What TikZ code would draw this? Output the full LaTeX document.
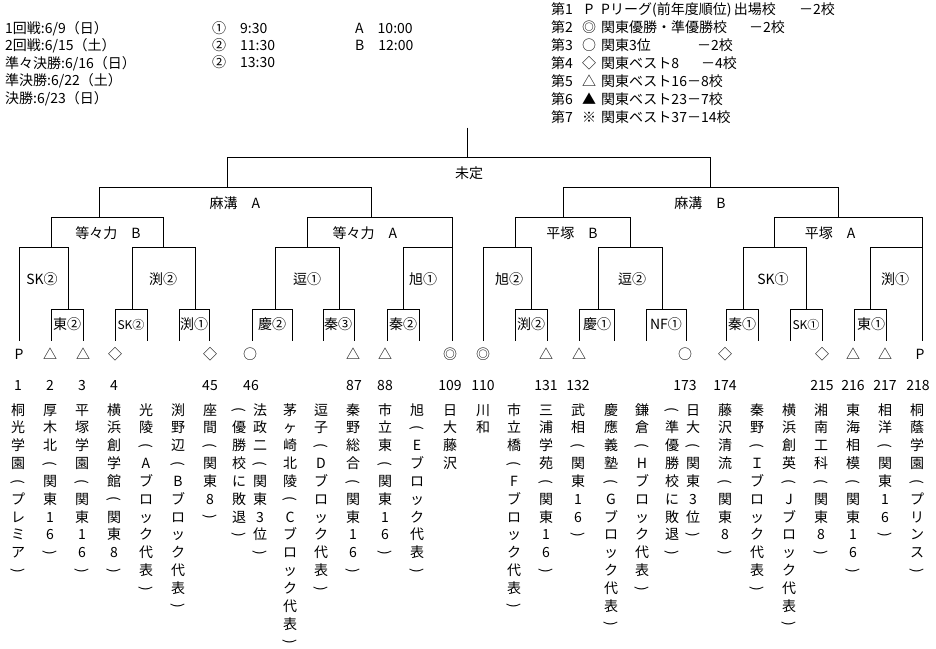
\documentclass[tikz,border=0pt]{standalone}
\usepackage{fontspec}
\setmainfont{Noto Sans CJK JP}
\def\tateOP{︵}
\def\tateCP{︶}
\newcommand\tatecol[3]{%
  \foreach \ch [count=\k from 0] in {#3} {%
    \ifx\ch\tateOP
      \node[t,rotate=-90] (#1-\k) at (#2,{410+17.85*\k}) {(};%
    \else\ifx\ch\tateCP
      \node[t,rotate=-90] (#1-\k) at (#2,{410+17.85*\k}) {)};%
    \else
      \node[t] (#1-\k) at (#2,{410+17.85*\k}) {\ch};%
    \fi\fi}}
\begin{document}
\begin{tikzpicture}[x=1pt,y=-1pt,
  t/.style={inner sep=0pt, text height=12pt, text depth=2pt, font=\fontsize{14}{18}\selectfont},
  ts/.style={t, font=\fontsize{12}{16}\selectfont},
  br/.style={draw=black, line width=1pt}]
\fill[white] (0,0) rectangle (936,648);
\path[use as bounding box] (0,0) rectangle (936,648);

% ---------- header (left) ----------
\node[t,anchor=west] (h1) at (5,28) {1回戦:6/9（日）};
\node[t,anchor=west] (h2) at (5,45) {2回戦:6/15（土）};
\node[t,anchor=west] (h3) at (5,63) {準々決勝:6/16（日）};
\node[t,anchor=west] (h4) at (5,80) {準決勝:6/22（土）};
\node[t,anchor=west] (h5) at (5,98) {決勝:6/23（日）};
\node[t,anchor=west] (m1) at (212,28) {①\quad 9:30};
\node[t,anchor=west] (m2) at (212,45) {②\quad 11:30};
\node[t,anchor=west] (m3) at (212,62) {②\quad 13:30};
\node[t,anchor=west] (a1) at (355,28) {A\quad 10:00};
\node[t,anchor=west] (a2) at (355,45) {B\quad 12:00};

% ---------- legend ----------
\foreach \n/\y/\mk in {1/9/P,2/27/◎,3/45/○,4/63/◇,5/81/△,6/99/▲,7/117/※}{
  \node[t,anchor=west] (lg\n) at (551,\y) {第\n};
  \node[t] (lm\n) at (589,\y) {\mk};}
\node[t,anchor=west] (ld1) at (601,9) {Pリーグ(前年度順位)\,出場校};
\node[t,anchor=east] (le1) at (835,9) {－2校};
\node[t,anchor=west] (ld2) at (601,27) {関東優勝・準優勝校};
\node[t,anchor=east] (le2) at (785,27) {－2校};
\node[t,anchor=west] (ld3) at (601,45) {関東3位};
\node[t,anchor=east] (le3) at (733,45) {－2校};
\node[t,anchor=west] (ld4) at (601,63) {関東ベスト8};
\node[t,anchor=east] (le4) at (737,63) {－4校};
\node[t,anchor=west] (ld5) at (601,81) {関東ベスト16－8校};
\node[t,anchor=west] (ld6) at (601,99) {関東ベスト23－7校};
\node[t,anchor=west] (ld7) at (601,117) {関東ベスト37－14校};

% ---------- bracket lines ----------
\begin{scope}[shift={(0.5,0.5)}]
\draw[br] (467,127)--(467,157);
\draw[br] (227,187)--(227,157)--(710,157)--(710,187);
\draw[br] (99,217)--(99,187)--(371,187)--(371,217);
\draw[br] (563,217)--(563,187)--(838,187)--(838,217);
\draw[br] (51,247)--(51,217)--(163,217)--(163,247);
\draw[br] (307,247)--(307,217)--(452,217)--(452,340);
\draw[br] (515,247)--(515,217)--(630,217)--(630,247);
\draw[br] (774,247)--(774,217)--(922,217)--(922,340);
\draw[br] (19,340)--(19,247)--(68,247)--(68,309);
\draw[br] (132,309)--(132,247)--(195,247)--(195,309);
\draw[br] (275,309)--(275,247)--(339,247)--(339,309);
\draw[br] (403,309)--(403,247)--(452,247);
\draw[br] (483,340)--(483,247)--(531,247)--(531,309);
\draw[br] (598,309)--(598,247)--(662,247)--(662,309);
\draw[br] (743,309)--(743,247)--(806,247)--(806,309);
\draw[br] (870,309)--(870,247)--(922,247);
\foreach \a/\b in {51/83,115/147,179/209,252/292,323/354,387/419,515/547,579/614,646/686,726/758,790/822,854/886}
  \draw[br] (\a,340)--(\a,309)--(\b,309)--(\b,340);
\end{scope}

% ---------- bracket labels ----------
\node[t] (final) at (469,173) {未定};
\node[t] (sfA) at (235,203) {麻溝　A};
\node[t] (sfB) at (700,203) {麻溝　B};
\node[t] (qf1) at (108,233) {等々力　B};
\node[t] (qf2) at (365,233) {等々力　A};
\node[t] (qf3) at (572,233) {平塚　B};
\node[t] (qf4) at (830,233) {平塚　A};
\node[t] (r1) at (42,279) {SK②};
\node[t] (r2) at (163,279) {渕②};
\node[t] (r3) at (307,279) {逗①};
\node[t] (r4) at (423,279) {旭①};
\node[t] (r5) at (509,279) {旭②};
\node[t] (r6) at (632,279) {逗②};
\node[t] (r7) at (773,279) {SK①};
\node[t] (r8) at (895,279) {渕①};
\node[t] (b1) at (67,324) {東②};
\node[ts] (b2) at (131,324) {SK②};
\node[t] (b3) at (194,324) {渕①};
\node[t] (b4) at (272,324) {慶②};
\node[t] (b5) at (338,324) {秦③};
\node[t] (b6) at (403,324) {秦②};
\node[t] (b7) at (531,324) {渕②};
\node[t] (b8) at (597,324) {慶①};
\node[t] (b9) at (666,324) {NF①};
\node[t] (b10) at (742,324) {秦①};
\node[ts] (b11) at (806,324) {SK①};
\node[t] (b12) at (871,324) {東①};

% ---------- seed marks ----------
\foreach \x/\mk [count=\i] in {19/P,50/△,83/△,115/◇,210/◇,250/○,353/△,385/△,450/◎,483/◎,546/△,579/△,685/○,725/◇,822/◇,853/△,885/△,920/P}
  \node[t] (mk\i) at (\x,354) {\mk};

% ---------- numbers ----------
\foreach \x/\nm [count=\i] in {18/1,50/2,82/3,114/4,210/45,251/46,354/87,385/88,450/109,483/110,546/131,578/132,685/173,725/174,822/215,853/216,885/217,918/218}
  \node[t] (nm\i) at (\x,385) {\nm};

% ---------- school names (vertical) ----------
\tatecol{s1}{18}{桐,光,学,園,︵,プ,レ,ミ,ア,︶}
\tatecol{s2}{50}{厚,木,北,︵,関,東,1,6,︶}
\tatecol{s3}{82}{平,塚,学,園,︵,関,東,1,6,︶}
\tatecol{s4}{114}{横,浜,創,学,館,︵,関,東,8,︶}
\tatecol{s5}{146}{光,陵,︵,A,ブ,ロ,ッ,ク,代,表,︶}
\tatecol{s6}{178}{渕,野,辺,︵,B,ブ,ロ,ッ,ク,代,表,︶}
\tatecol{s7}{210}{座,間,︵,関,東,8,︶}
\tatecol{s8a}{239}{︵,優,勝,校,に,敗,退,︶}
\tatecol{s8}{260}{法,政,二,︵,関,東,3,位,︶}
\tatecol{s9}{290}{茅,ヶ,崎,北,陵,︵,C,ブ,ロ,ッ,ク,代,表,︶}
\tatecol{s10}{321}{逗,子,︵,D,ブ,ロ,ッ,ク,代,表,︶}
\tatecol{s11}{353}{秦,野,総,合,︵,関,東,1,6,︶}
\tatecol{s12}{385}{市,立,東,︵,関,東,1,6,︶}
\tatecol{s13}{417}{旭,︵,E,ブ,ロ,ッ,ク,代,表,︶}
\tatecol{s14}{450}{日,大,藤,沢}
\tatecol{s15}{483}{川,和}
\tatecol{s16}{514}{市,立,橋,︵,F,ブ,ロ,ッ,ク,代,表,︶}
\tatecol{s17}{546}{三,浦,学,苑,︵,関,東,1,6,︶}
\tatecol{s18}{578}{武,相,︵,関,東,1,6,︶}
\tatecol{s19}{611}{慶,應,義,塾,︵,G,ブ,ロ,ッ,ク,代,表,︶}
\tatecol{s20}{642}{鎌,倉,︵,H,ブ,ロ,ッ,ク,代,表,︶}
\tatecol{s21a}{672}{︵,準,優,勝,校,に,敗,退,︶}
\tatecol{s21}{693}{日,大,︵,関,東,3,位,︶}
\tatecol{s22}{725}{藤,沢,清,流,︵,関,東,8,︶}
\tatecol{s23}{757}{秦,野,︵,Ｉ,ブ,ロ,ッ,ク,代,表,︶}
\tatecol{s24}{789}{横,浜,創,英,︵,J,ブ,ロ,ッ,ク,代,表,︶}
\tatecol{s25}{821}{湘,南,工,科,︵,関,東,8,︶}
\tatecol{s26}{853}{東,海,相,模,︵,関,東,1,6,︶}
\tatecol{s27}{885}{相,洋,︵,関,東,1,6,︶}
\tatecol{s28}{917}{桐,蔭,学,園,︵,プ,リ,ン,ス,︶}
\end{tikzpicture}
\end{document}
